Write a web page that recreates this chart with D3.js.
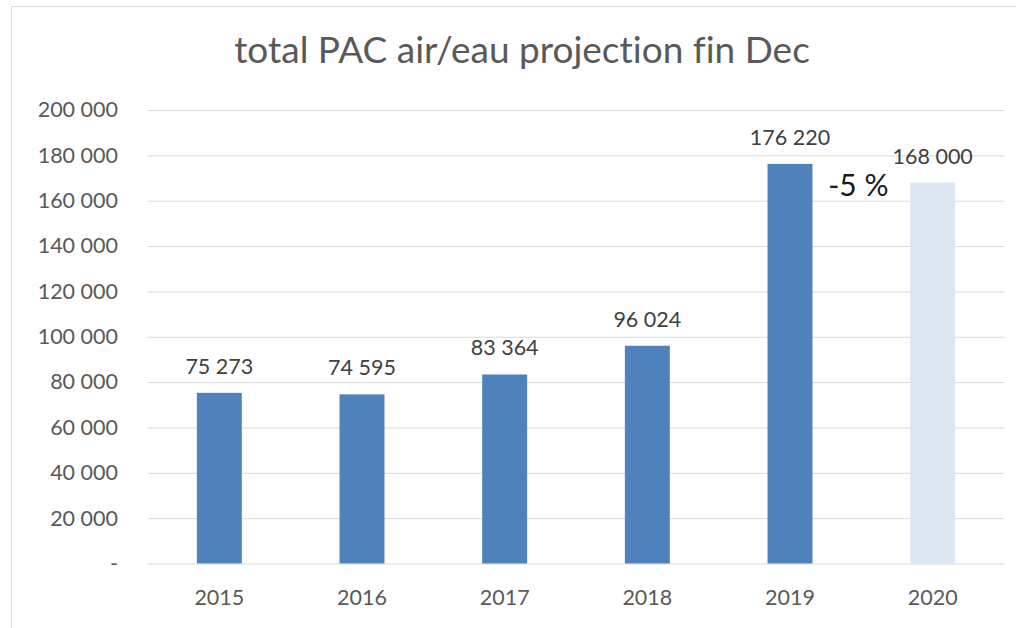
<!DOCTYPE html>
<html>
<head>
<meta charset="utf-8">
<script src="https://cdn.jsdelivr.net/npm/d3@7"></script>
<style>
  body { margin: 0; background: #fff; }
  text { font-family: Lato, "Open Sans", sans-serif; font-variant-ligatures: none; }
</style>
</head>
<body>
<div id="chart"></div>
<script>

// chart data
const years = ["2015", "2016", "2017", "2018", "2019", "2020"];
const totals = [75273, 74595, 83364, 96024, 176220, 168000];
const projected = [false, false, false, false, false, true];
const yTicks = [0, 20000, 40000, 60000, 80000, 100000, 120000, 140000, 160000, 180000, 200000];
const changeLabel = "-5 %";


let width = 1016, height = 628;
let margin = {top: 110, right: 12, bottom: 64.5, left: 148};

let svg = d3.select("#chart")
    .append("svg")
    .attr("width", width)
    .attr("height", height);

// outer frame of the chart area
svg.append("rect")
    .attr("x", 11.5).attr("y", 6.5)
    .attr("width", 1100).attr("height", 700)
    .attr("fill", "none")
    .attr("stroke", "#d9d9d9");

let x = d3.scaleBand()
    .domain(years)
    .range([margin.left, width - margin.right])
    .paddingInner(0.685)
    .paddingOuter(0.3425);

let y = d3.scaleLinear()
    .domain([0, 200000])
    .range([height - margin.bottom, margin.top]);

let fmt = v => v == 0 ? "-" : d3.format(",")(v).replace(/,/g, " ");

// gridlines + y labels
let yAxis = svg.append("g")
    .attr("transform", "translate(" + margin.left + ",0)")
    .call(d3.axisLeft(y).tickValues(yTicks).tickFormat(fmt)
        .tickSize(-(width - margin.right - margin.left)).tickPadding(30));

yAxis.select(".domain").remove();
yAxis.selectAll(".tick line").attr("stroke", "#d9d9d9");
yAxis.selectAll(".tick text")
    .attr("fill", "#595959")
    .style("font-size", "21.5px");

// bars
svg.selectAll(".bar")
    .data(years)
    .enter()
    .append("rect")
    .attr("class", "bar")
    .attr("x", d => x(d))
    .attr("width", x.bandwidth())
    .attr("y", (d, i) => y(totals[i]))
    .attr("height", (d, i) => y(0) - y(totals[i]))
    .attr("fill", (d, i) => projected[i] ? "#dce6f2" : "#4f81bd");

// value labels
svg.selectAll(".val")
    .data(years)
    .enter()
    .append("text")
    .attr("class", "val")
    .attr("x", d => x(d) + x.bandwidth() / 2)
    .attr("y", (d, i) => y(totals[i]) - 19)
    .attr("text-anchor", "middle")
    .attr("fill", "#404040")
    .style("font-size", "21.5px")
    .text((d, i) => fmt(totals[i]));

// x labels
let xAxis = svg.append("g")
    .attr("transform", "translate(0," + y(0) + ")")
    .call(d3.axisBottom(x).tickSize(0).tickPadding(26));

xAxis.select(".domain").remove();
xAxis.selectAll(".tick text")
    .attr("fill", "#595959")
    .style("font-size", "21.5px");

// change annotation between last two bars
svg.append("text")
    .attr("x", (x("2019") + x("2020") + x.bandwidth()) / 2 - 3)
    .attr("y", 196)
    .attr("text-anchor", "middle")
    .attr("fill", "#1a1a1a")
    .style("font-size", "30px")
    .text(changeLabel);

// title
svg.append("text")
    .attr("x", 522)
    .attr("y", 63)
    .attr("text-anchor", "middle")
    .attr("fill", "#595959")
    .style("font-size", "37px")
    .text("total PAC air/eau projection fin Dec");

</script>
</body>
</html>
